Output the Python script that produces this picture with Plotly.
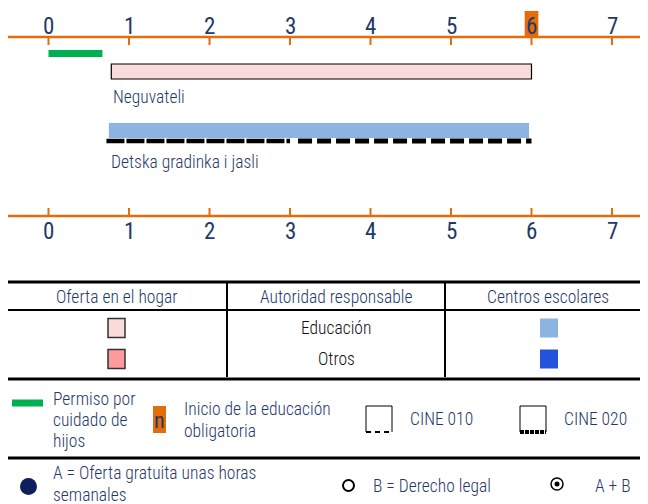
import plotly.graph_objects as go

# age axis
ages = [0, 1, 2, 3, 4, 5, 6, 7]
compulsory_start = 6

# childcare leave (green)
leave_start = 0
leave_end = 0.67

# settings
settings = ["Neguvateli", "Detska gradinka i jasli"]
setting_start = [0.78, 0.75]
setting_end = [6.0, 5.97]
setting_color = ["#FADBDB", "#8DB3E2"]

# CINE segments under the centre-based setting
cine010 = [0.72, 3.0]
cine020 = [3.0, 6.0]

# legend texts
table_head = ["Oferta en el hogar", "Autoridad responsable", "Centros escolares"]
table_rows = ["Educación", "Otros"]
home_colors = ["#FADBDB", "#FF9B9E"]
centre_colors = ["#8DB3E2", "#2353DB"]

FONT = "Roboto Condensed, DejaVu Sans Condensed, Liberation Sans Narrow, Liberation Sans, sans-serif"
NAVY = "#1F3A68"
ORANGE = "#E46C0A"
# page has an 8px body margin, so the figure covers page x/y 8..648 / 8..504
W, H = 640, 496
OFF = 8
UNIT = 80.5   # px per year
X0 = 48.5     # page x of age 0
FS = 17.5


def px(x):
    return (x - OFF) / W


def txt(x, y, text, size=FS, color=NAVY, anchor="center", xref="paper", weight=350):
    return dict(x=x, y=y, xref=xref, yref="y", text=text, showarrow=False,
                xanchor=anchor, align="left" if anchor == "left" else "center",
                font=dict(family=FONT, size=size, color=color, weight=weight))


def lines(x, ys, texts):
    return [txt(x, y, t, anchor="left") for y, t in zip(ys, texts)]


fig = go.Figure()
shapes = []
ann = []

# age axes (top and bottom)
for ax_y, tick_dir, lab_y in [(37, 1, 26), (216, -1, 231)]:
    shapes.append(dict(type="line", xref="paper", yref="y", x0=0, x1=1,
                       y0=ax_y, y1=ax_y, line=dict(color=ORANGE, width=2.5)))
    for a in ages:
        shapes.append(dict(type="line", xref="x", yref="y", x0=a, x1=a,
                           y0=ax_y, y1=ax_y + 8 * tick_dir,
                           line=dict(color=ORANGE, width=2)))
        if ax_y == 37 and a == compulsory_start:
            shapes.append(dict(type="rect", xref="x", yref="y", x0=a - 0.085, x1=a + 0.085,
                               y0=11, y1=37, fillcolor=ORANGE, line=dict(width=0), layer="below"))
        ann.append(txt(a, lab_y, str(a), size=23, xref="x", weight=400))

# childcare leave bar
fig.add_trace(go.Bar(orientation="h", base=[leave_start], x=[leave_end - leave_start], y=[53.5],
                     width=7, marker=dict(color="#00B050", line=dict(width=0))))

# settings bars
bar_y = [71.5, 130.5]
label_y = [97, 162]
line_cols = ["black", "rgba(0,0,0,0)"]
for name, s, e, c, yy, ly, lc in zip(settings, setting_start, setting_end, setting_color,
                                     bar_y, label_y, line_cols):
    fig.add_trace(go.Bar(orientation="h", base=[s], x=[e - s], y=[yy], width=15,
                         marker=dict(color=c, line=dict(color=lc, width=1.2))))
    ann.append(txt(s, ly, name, size=17.5, anchor="left", xref="x"))

# CINE dashed lines
fig.add_trace(go.Scatter(x=cine010, y=[141, 141], mode="lines",
                         line=dict(color="black", width=4.5, dash="18px,2px")))
fig.add_trace(go.Scatter(x=[cine020[0] + 0.1, cine020[1]], y=[141, 141], mode="lines",
                         line=dict(color="black", width=5, dash="14px,5px")))

# table
shapes.append(dict(type="line", xref="paper", yref="y", x0=0, x1=1, y0=282, y1=282,
                   line=dict(color="black", width=3)))
shapes.append(dict(type="line", xref="paper", yref="y", x0=0, x1=1, y0=310, y1=310,
                   line=dict(color="black", width=2)))
for vx in [227, 445]:
    shapes.append(dict(type="line", xref="paper", yref="y", x0=px(vx), x1=px(vx), y0=282, y1=377,
                       line=dict(color="black", width=2)))
for t, cx in zip(table_head, [117, 336, 548]):
    ann.append(txt(px(cx), 297, t))
for r, ry, hc, cc in zip(table_rows, [328, 359], home_colors, centre_colors):
    ann.append(txt(px(336), ry, r, color="#111111"))
    shapes.append(dict(type="rect", xref="paper", yref="y", x0=px(108), x1=px(125),
                       y0=ry - 9.5, y1=ry + 9.5, fillcolor=hc, line=dict(color="#333333", width=1.5)))
    shapes.append(dict(type="rect", xref="paper", yref="y", x0=px(540), x1=px(558),
                       y0=ry - 9.5, y1=ry + 9.5, fillcolor=cc, line=dict(width=0)))

# legend block
for ly in [379, 458]:
    shapes.append(dict(type="line", xref="paper", yref="y", x0=0, x1=1, y0=ly, y1=ly,
                       line=dict(color="black", width=3)))

shapes.append(dict(type="line", xref="paper", yref="y", x0=px(12), x1=px(43), y0=403, y1=403,
                   line=dict(color="#00B050", width=7)))
ann += lines(px(51), [399, 420, 441], ["Permiso por", "cuidado de", "hijos"])

shapes.append(dict(type="rect", xref="paper", yref="y", x0=px(153), x1=px(166), y0=406, y1=433,
                   fillcolor=ORANGE, line=dict(width=0)))
ann.append(txt(px(159.5), 420, "n", size=22, weight=400))
ann += lines(px(182), [409, 431], ["Inicio de la educación", "obligatoria"])

for x0, label, dash, bw in [(366, "CINE 010", "5px,4px", 2), (520, "CINE 020", "4px,1px", 4)]:
    x1 = x0 + 26
    shapes.append(dict(type="path", xref="paper", yref="y",
                       path=f"M {px(x0)} 432 L {px(x0)} 406 L {px(x1)} 406 L {px(x1)} 432",
                       line=dict(color="black", width=1)))
    shapes.append(dict(type="line", xref="paper", yref="y", x0=px(x0), x1=px(x1), y0=432, y1=432,
                       line=dict(color="black", width=bw, dash=dash)))
    ann.append(txt(px(x1 + 16), 419, label, anchor="left"))

# circles row
shapes.append(dict(type="circle", xref="paper", yref="y", x0=px(20), x1=px(37), y0=478, y1=495,
                   fillcolor="#0E1F5B", line=dict(width=0)))
ann += lines(px(51), [473, 495], ["A = Oferta gratuita unas horas", "semanales"])
shapes.append(dict(type="circle", xref="paper", yref="y", x0=px(343), x1=px(354), y0=480, y1=491,
                   fillcolor="white", line=dict(color="black", width=2)))
ann.append(txt(px(371), 486, "B = Derecho legal", anchor="left"))
shapes.append(dict(type="circle", xref="paper", yref="y", x0=px(551), x1=px(563), y0=478, y1=490,
                   fillcolor="white", line=dict(color="black", width=1.5)))
shapes.append(dict(type="circle", xref="paper", yref="y", x0=px(554.5), x1=px(559.5), y0=481.5, y1=486.5,
                   fillcolor="black", line=dict(width=0)))
ann.append(txt(px(593), 486, "A + B", anchor="left"))

fig.update_layout(
    width=W, height=H,
    margin=dict(l=0, r=0, t=0, b=0),
    paper_bgcolor="white", plot_bgcolor="white",
    showlegend=False, barmode="overlay",
    xaxis=dict(range=[(OFF - X0) / UNIT, (OFF + W - X0) / UNIT], visible=False, fixedrange=True),
    yaxis=dict(range=[OFF + H, OFF], visible=False, fixedrange=True),
    shapes=shapes, annotations=ann,
)

fig.write_html("out.html")
